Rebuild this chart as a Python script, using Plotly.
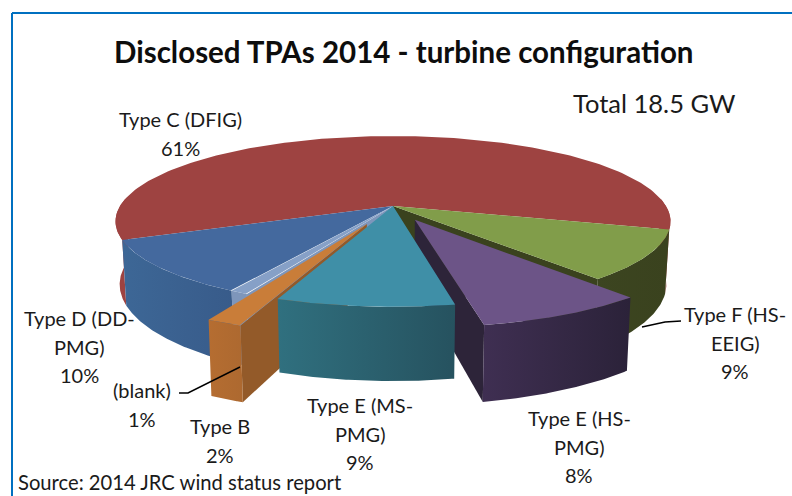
import numpy as np
import plotly.graph_objects as go

# ---- data ----
categories = ["Type C (DFIG)", "Type F (HS-EEIG)", "Type E (HS-PMG)", "Type E (MS-PMG)", "Type B", "(blank)", "Type D (DD-PMG)"]
shares = [60.6, 9.4, 8.2, 8.7, 1.7, 0.9, 10.4]
share_labels = ["61%", "9%", "8%", "9%", "2%", "1%", "10%"]
title_text = "Disclosed TPAs 2014 - turbine configuration"
total_text = "Total 18.5 GW"
source_text = "Source: 2014 JRC wind status report"

# ---- geometry and style ----
START = 247.4
CX, CY, A, B, K, DEPTH, SHRINK = 393, 206, 273, 82.6, 0.18, 61, 0.985
explode = [0, 0, 0.18, 0, 0.23, 0, 0]
top_col = ["#9e4341", "#819d4a", "#6c5487", "#3f8fa7", "#c97d39", "#86a0c7", "#44699e"]
wall_col = [("#9e4341", "#9e4341"), ("#3c4520", "#3a421e"), ("#3f2f52", "#2b2239"),
            ("#30707f", "#26525f"), ("#b56d31", "#ad6930"), ("#7e96bb", "#7e96bb"), ("#3d6796", "#385b8a")]
cut_col = ["#9e4341", "#3a421e", "#2d2439", "#26525f", "#935a29", "#7e96bb", "#3d6796"]

FONT = "Lato"
total = sum(shares)
angles = [START]
for s in shares:
    angles.append(angles[-1] + s / total * 360)


def proj(u, v, e_u=0.0, e_v=0.0, low=False):
    u = np.asarray(u, float) + e_u
    v = np.asarray(v, float) + e_v
    s = 1 / (1 + K * v)
    x = A * u * s * (SHRINK if low else 1)
    y = -B * v * s + (DEPTH * s if low else 0)
    return CX + x, CY + y


def rim(a0, a1, n=80):
    th = np.radians(np.linspace(a0, a1, n))
    return np.sin(th), np.cos(th)


fig = go.Figure()


def poly(x, y, color=None, grad=None):
    kw = dict(fill="toself", mode="lines", line=dict(width=0), hoverinfo="skip", showlegend=False)
    if grad:
        kw["fillgradient"] = dict(type="horizontal", colorscale=[[0, grad[0]], [1, grad[1]]])
    else:
        kw["fillcolor"] = color
    fig.add_trace(go.Scatter(x=list(x), y=list(y), **kw))


def offset(i):
    mid = np.radians((angles[i] + angles[i + 1]) / 2)
    return explode[i] * np.sin(mid), explode[i] * np.cos(mid)


def wall(i, a0=None, a1=None):
    eu, ev = offset(i)
    u, v = rim(angles[i] if a0 is None else a0, angles[i + 1] if a1 is None else a1)
    xt, yt = proj(u, v, eu, ev)
    xb, yb = proj(u, v, eu, ev, low=True)
    poly(np.r_[xt, xb[::-1]], np.r_[yt, yb[::-1]], grad=wall_col[i])


def top(i):
    eu, ev = offset(i)
    u, v = rim(angles[i], angles[i + 1], 160)
    x, y = proj(np.r_[0, u], np.r_[0, v], eu, ev)
    poly(x, y, color=top_col[i])


def cut(i, ang):
    eu, ev = offset(i)
    u, v = rim(ang, ang, 2)
    u, v = np.r_[0, u[0]], np.r_[0, v[0]]
    xt, yt = proj(u, v, eu, ev)
    xb, yb = proj(u, v, eu, ev, low=True)
    poly(np.r_[xt, xb[::-1]], np.r_[yt, yb[::-1]], color=cut_col[i])


# painter's order, back to front
wall(0, angles[0], 275)              # left part of the big slice
wall(0, 85, angles[1] - 360)         # right part of the big slice
top(0)
cut(1, angles[2]); wall(1); top(1)
cut(2, angles[3]); wall(2); top(2)
wall(6); top(6)
cut(5, angles[5]); wall(5); top(5)
cut(4, angles[4]); wall(4); top(4)
wall(3); top(3)

# leader lines
fig.add_trace(go.Scatter(x=[179, 188, 240], y=[393, 393, 367], mode="lines",
                         line=dict(color="#000000", width=1.5), hoverinfo="skip", showlegend=False))
fig.add_trace(go.Scatter(x=[642, 665, 681], y=[327, 322, 321], mode="lines",
                         line=dict(color="#000000", width=1.5), hoverinfo="skip", showlegend=False))

label_lines = [["Type C (DFIG)"], ["Type F (HS-", "EEIG)"], ["Type E (HS-", "PMG)"], ["Type E (MS-", "PMG)"],
               ["Type B"], ["(blank)"], ["Type D (DD-", "PMG)"]]
label_x = [180, 735, 579, 360, 220, 142, 79]
label_y = [119, 314, 418, 405, 426, 390, 318]
LINE_STEP = 28.5
annos = []
for lines, p, x, y in zip(label_lines, share_labels, label_x, label_y):
    for j, t in enumerate(lines + [p]):
        annos.append(dict(x=x, y=y + j * LINE_STEP, xref="x", yref="y", text=t, showarrow=False,
                          font=dict(family=FONT, size=20, color="#1a1a1a"), align="center"))
annos.append(dict(x=404, y=51, xref="x", yref="y", text=f"<b>{title_text}</b>", showarrow=False,
                  font=dict(family=FONT, size=29.5, color="#0d0d0d")))
annos.append(dict(x=654, y=103, xref="x", yref="y", text=total_text, showarrow=False,
                  font=dict(family=FONT, size=25.5, color="#1a1a1a")))
annos.append(dict(x=16, y=482, xref="x", yref="y", text=source_text, showarrow=False, xanchor="left",
                  font=dict(family=FONT, size=20.2, color="#1a1a1a")))

fig.update_layout(
    width=792, height=496, margin=dict(l=0, r=0, t=0, b=0),
    paper_bgcolor="white", plot_bgcolor="white",
    xaxis=dict(range=[0, 792], visible=False, fixedrange=True),
    yaxis=dict(range=[496, 0], visible=False, fixedrange=True),
    annotations=annos,
    shapes=[dict(type="line", xref="x", yref="y", x0=12, x1=12, y0=13, y1=496, line=dict(color="#0070c0", width=2)),
            dict(type="line", xref="x", yref="y", x0=12, x1=792, y0=13, y1=13, line=dict(color="#0070c0", width=2))],
)
fig.write_html("out.html", config={"displayModeBar": False},
               post_script="document.body.style.margin='0';document.body.style.overflow='hidden';")
